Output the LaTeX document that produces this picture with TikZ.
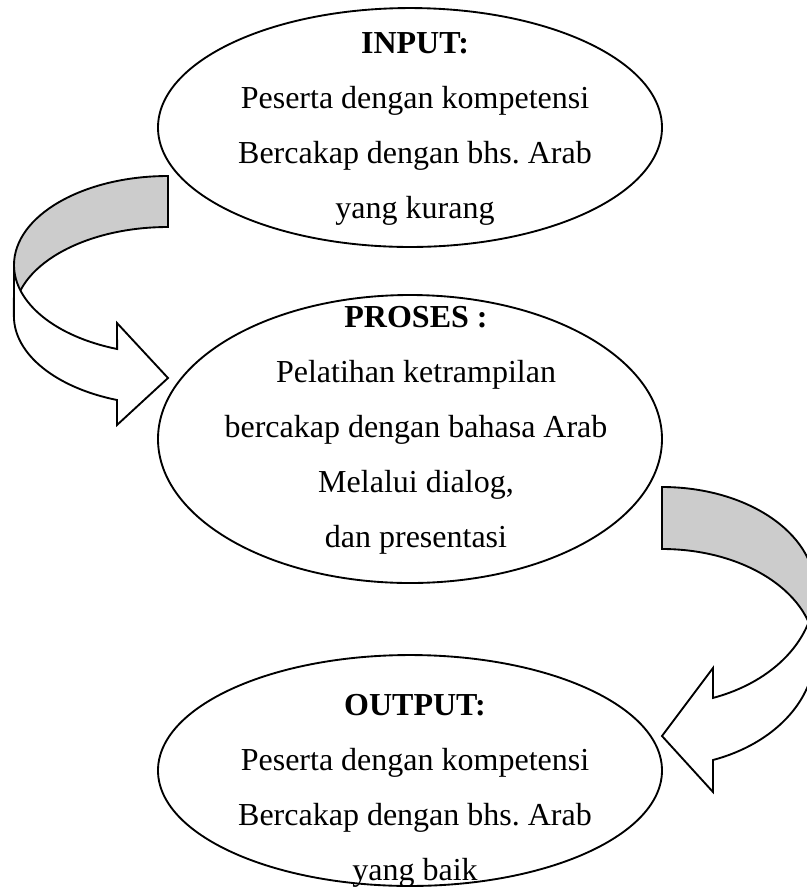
\documentclass[tikz,border=0pt]{standalone}
\usepackage{fontspec}
\setmainfont{Liberation Serif}
\usetikzlibrary{shapes.geometric}
\frenchspacing

\begin{document}
\begin{tikzpicture}[x=0.375pt,y=-0.375pt,
  oval/.style={draw,ellipse,line width=0.7pt,minimum width=189pt,inner sep=0pt},
  txt/.style={align=center,anchor=north,inner sep=0pt,font=\fontsize{12}{20.6}\selectfont},
  band/.style={draw,line width=0.7pt,line join=miter}]
\clip (0,0) rectangle (807,888);

% ---------- INPUT ----------
\node[oval,minimum height=89.6pt] (input) at (410,127.5) {};
\node[txt] (inputtxt) at (415,32) {\textbf{INPUT:}\\Peserta dengan kompetensi\\Bercakap dengan bhs. Arab\\yang kurang};

% ---------- PROSES ----------
\node[oval,minimum height=108pt] (proses) at (410,439) {};
\node[txt] (prosestxt) at (416,306) {\textbf{PROSES :}\\Pelatihan ketrampilan\\bercakap dengan bahasa Arab\\Melalui dialog,\\dan presentasi};

% ---------- OUTPUT ----------
\node[oval,minimum height=86.6pt] (output) at (410,770.5) {};
\node[txt] (outputtxt) at (415,694) {\textbf{OUTPUT:}\\Peserta dengan kompetensi\\Bercakap dengan bhs. Arab\\yang baik};

% ---------- ARROW 1 : input -> proses (left side) ----------
\filldraw[band,fill=gray!40] (168,176) arc[start angle=-90,end angle=-180,x radius=154,y radius=89]
  -- (14,316) arc[start angle=180,end angle=270,x radius=154,y radius=89] -- cycle; % back
\filldraw[band,fill=white] (14,265) arc[start angle=180,end angle=109.3,x radius=154,y radius=89]
  -- (117,323) -- (168,378) -- (117,425) -- (117,400)
  arc[start angle=109.3,end angle=180,x radius=154,y radius=89] -- cycle; % front + head

% ---------- ARROW 2 : proses -> output (right side) ----------
\filldraw[band,fill=gray!40] (662,487) arc[start angle=-90,end angle=0,x radius=153,y radius=102.5]
  -- (815,651.5) arc[start angle=0,end angle=-90,x radius=153,y radius=102.5] -- cycle; % back
\filldraw[band,fill=white] (815,589.5) arc[start angle=0,end angle=70.5,x radius=153,y radius=115]
  -- (713,668) -- (662,736) -- (713,792) -- (713,760)
  arc[start angle=70.5,end angle=0,x radius=153,y radius=115] -- cycle; % front + head

\end{tikzpicture}
\end{document}
